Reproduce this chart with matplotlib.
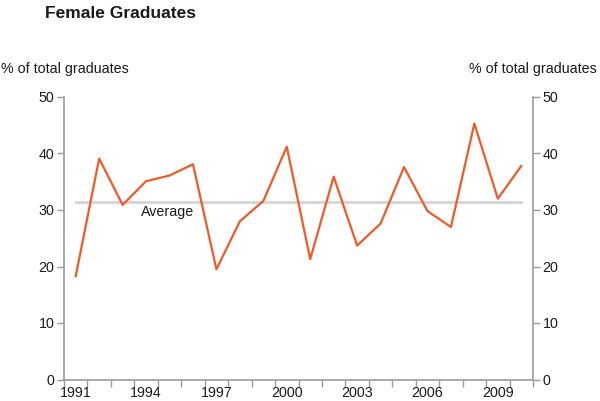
import matplotlib
matplotlib.use("Agg")
import matplotlib.pyplot as plt
from matplotlib.ticker import FixedLocator, NullFormatter

plt.rcParams['font.family'] = ['Liberation Sans', 'DejaVu Sans']

# data
years = list(range(1991, 2011))
female_share = [18.3, 39.1, 30.9, 35.1, 36.1, 38.1, 19.5, 28.0, 31.6, 41.2,
                21.3, 35.9, 23.7, 27.6, 37.6, 29.8, 27.0, 45.3, 32.0, 37.8]
average = 31.5
year_labels = [1991, 1994, 1997, 2000, 2003, 2006, 2009]
y_ticks = [0, 10, 20, 30, 40, 50]

axis_grey = '#9a9a9a'
text_col = '#1a1a1a'
fs = 10.3

fig = plt.figure(figsize=(6, 4.01), dpi=100)
ax = fig.add_axes([64 / 600, 1 - 379.5 / 401, (533 - 64) / 600, (379.5 - 97) / 401])

ax.plot([years[0], years[-1]], [average, average], color='#d4d4d4', lw=2, zorder=1)
ax.plot(years, female_share, color='#f05a28', lw=1.6, zorder=2)
ax.text(1993.8, average - 1.9, 'Average', fontsize=fs, color=text_col,
        va='center', ha='left')

ax.set_xlim(1990.5, 2010.5)
ax.set_ylim(0, 50)

# year boundaries get the tick marks, year centres get the labels
ax.xaxis.set_major_locator(FixedLocator([y + 0.5 for y in range(1990, 2011)]))
ax.xaxis.set_major_formatter(NullFormatter())
ax.xaxis.set_minor_locator(FixedLocator(year_labels))
ax.set_xticklabels([str(y) for y in year_labels], minor=True)
ax.tick_params(axis='x', which='minor', length=0, pad=5, labelsize=fs, labelcolor=text_col)
ax.tick_params(axis='x', which='major', length=5, width=1, color=axis_grey, direction='out')

ax.set_yticks(y_ticks)
ax.tick_params(axis='y', which='major', length=5, width=1, color=axis_grey, direction='out',
               labelsize=fs, labelcolor=text_col, pad=2,
               left=True, right=True, labelleft=True, labelright=True)

for side in ['left', 'right', 'bottom']:
    ax.spines[side].set_color(axis_grey)
    ax.spines[side].set_linewidth(1.2)
ax.spines['top'].set_visible(False)

fig.text(45 / 600, 1 - 13 / 401, 'Female Graduates', fontsize=12.5, fontweight='bold',
         color=text_col, va='center', ha='left')
fig.text(1 / 600, 1 - 69 / 401, '% of total graduates', fontsize=fs, color=text_col,
         va='center', ha='left')
fig.text(597 / 600, 1 - 69 / 401, '% of total graduates', fontsize=fs, color=text_col,
         va='center', ha='right')

fig.savefig('out.png', dpi=100)
